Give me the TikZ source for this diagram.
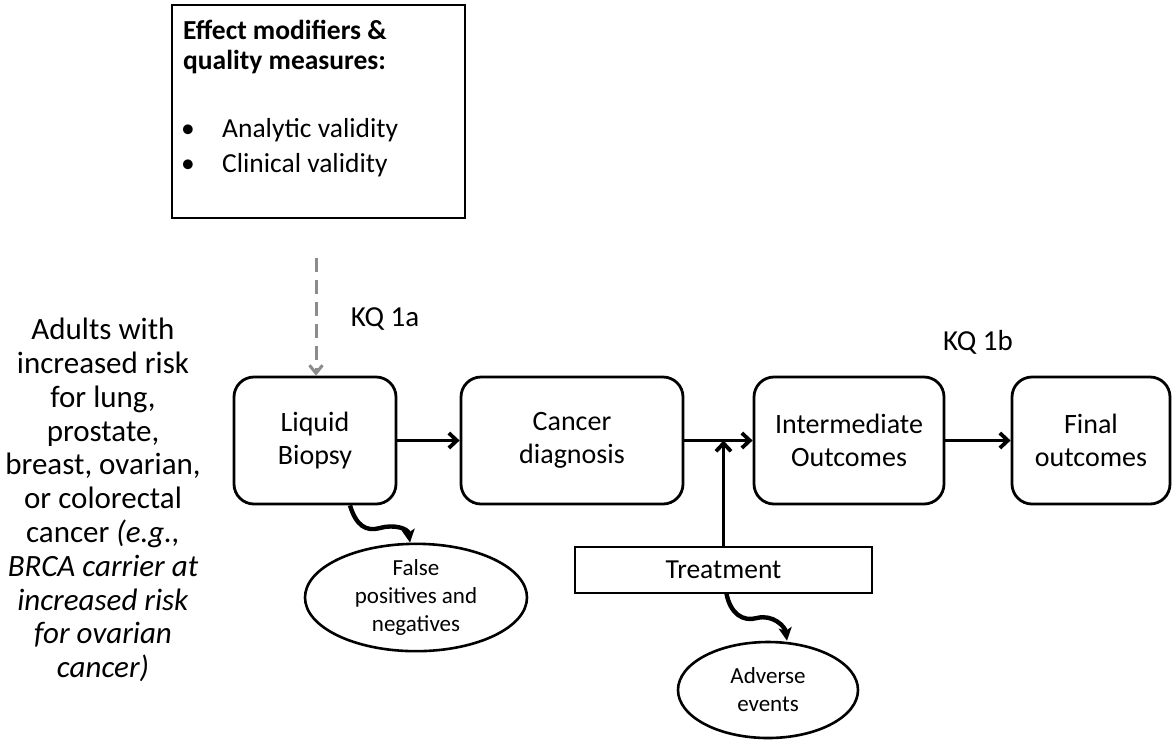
\documentclass[tikz,border=0pt]{standalone}
\usepackage{fontspec}
\setmainfont{Carlito}
\usetikzlibrary{shapes.geometric,arrows.meta}
\tikzset{
  stagebox/.style={draw, line width=2.8pt, rounded corners=20pt, align=center, font=\fontsize{28}{33}\selectfont, inner sep=0pt},
  outcome/.style={draw, ellipse, line width=2.6pt, align=center, font=\fontsize{23}{28}\selectfont, inner sep=0pt},
  flow/.style={line width=3.8pt, -{Straight Barb[length=8pt,width=15pt]}},
  harm/.style={line width=4.4pt, -{Stealth[length=13pt,width=13pt,inset=3pt]}},
  modarrow/.style={draw=black!45, line width=3pt, dash pattern=on 14pt off 8pt, -{Straight Barb[length=8pt,width=13pt]}},
  lbl/.style={font=\fontsize{29}{32}\selectfont, inner sep=0pt},
  efftxt/.style={anchor=base west, inner sep=0pt, font=\fontsize{27.5}{31}\selectfont}
}
\begin{document}
\begin{tikzpicture}[x=1pt,y=-1pt]
\useasboundingbox[fill=white] (0,0) rectangle (1172,740);

% top box
\node[draw, line width=1.2pt, minimum width=293pt, minimum height=213pt, inner sep=0pt] (eff) at (318.5,111.5) {};
\node[efftxt, font=\fontsize{27.5}{31}\selectfont\bfseries] (efft1) at (183,39) {Effect modifiers \&};
\node[efftxt, font=\fontsize{27.5}{31}\selectfont\bfseries] (efft2) at (183,69) {quality measures:};
\node[efftxt] (effb1) at (181,137) {\makebox[41pt][l]{\textbullet}Analytic validity};
\node[efftxt] (effb2) at (181,172) {\makebox[41pt][l]{\textbullet}Clinical validity};

% population
\node[align=center, inner sep=0pt, font=\fontsize{31}{33.8}\selectfont] (pop) at (103,500)
 {Adults with\\increased risk\\for lung,\\prostate,\\breast, ovarian,\\or colorectal\\cancer \textit{(e.g.,}\\\textit{BRCA carrier at}\\\textit{increased risk}\\\textit{for ovarian}\\\textit{cancer)}};

% stages
\node[stagebox, minimum width=162pt, minimum height=127pt] (lb) at (315,440.5) {Liquid\\Biopsy};
\node[stagebox, minimum width=222pt, minimum height=127pt] (cd) at (572,440.5) {Cancer\\diagnosis};
\node[stagebox, minimum width=190pt, minimum height=127pt] (io) at (849,440.5) {Intermediate\\Outcomes};
\node[stagebox, minimum width=158pt, minimum height=127pt] (fo) at (1091,440.5) {Final\\outcomes};

\node[draw, line width=1.6pt, minimum width=297pt, minimum height=46pt, inner sep=0pt, font=\fontsize{27.5}{30}\selectfont] (tr) at (723.5,570) {Treatment};

\node[outcome, minimum width=222pt, minimum height=99pt] (fp) at (416,597.5) {False\\positives and\\negatives};
\node[outcome, minimum width=180pt, minimum height=96pt] (ae) at (768,690) {Adverse\\events};

% labels
\node[lbl] (kq1a) at (385,319) {KQ 1a};
\node[lbl] (kq1b) at (978,342) {KQ 1b};

% connectors
\coordinate (dstart) at (316,258);
\draw[modarrow] (dstart) -- (dstart |- lb.north);
\draw[flow] (lb.east) -- (cd.west);
\draw[flow] (cd.east) -- (io.west);
\draw[flow] (io.east) -- (fo.west);
\coordinate (join) at (tr.north |- cd.east);
\draw[flow] (tr.north) -- (join);

\draw[harm] ([xshift=35pt]lb.south) .. controls +(6,20) and +(-14,4) .. (380,528) .. controls +(14,-4) and +(-2,-14) .. ([xshift=-6pt]fp.north);
\draw[harm] ([xshift=3pt]tr.south) .. controls +(4,20) and +(-14,4) .. (757,618) .. controls +(16,-4) and +(-2,-14) .. ([xshift=19pt]ae.north);
\end{tikzpicture}
\end{document}
